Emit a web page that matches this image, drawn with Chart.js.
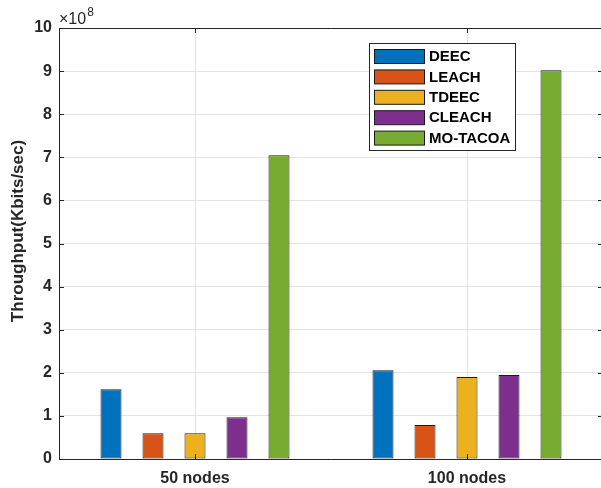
<!DOCTYPE html>
<html>
<head>
<meta charset="utf-8">
<script src="https://cdn.jsdelivr.net/npm/chart.js@4/dist/chart.umd.min.js"></script>
<style>
  html, body { margin: 0; padding: 0; background: #fff; overflow: hidden; }
  #wrap { width: 604px; height: 488px; }
</style>
</head>
<body>
<div id="wrap"><canvas id="c" width="604" height="488"></canvas></div>
<script>
// Network sizes on the x axis
const categories = ['50 nodes', '100 nodes'];

// Throughput per protocol (Kbits/sec)
const deec    = [1.62e8, 2.06e8];
const leach   = [0.60e8, 0.79e8];
const tdeec   = [0.60e8, 1.90e8];
const cleach  = [0.97e8, 1.95e8];
const moTacoa = [7.05e8, 9.02e8];

const seriesNames = ['DEEC', 'LEACH', 'TDEEC', 'CLEACH', 'MO-TACOA'];
const seriesValues = [deec, leach, tdeec, cleach, moTacoa];
const seriesColors = ['#0072BD', '#D95319', '#EDB120', '#7E2F8E', '#77AC30'];

// Y axis: 0..10 in units of 1e8
const yTickLabels = ['0', '1', '2', '3', '4', '5', '6', '7', '8', '9', '10'];
const yScaleFactor = 1e8;
const yExponent = '8';
const yTitle = 'Throughput(Kbits/sec)';

const FONT = '"Liberation Sans", Arial, Helvetica, sans-serif';
const AXIS_COLOR = '#262626';

// Axis box, inward tick marks, y label, exponent label and inset legend
const matlabAxes = {
  id: 'matlabAxes',
  afterDatasetsDraw(chart) {
    const { ctx, chartArea: a, scales } = chart;
    ctx.save();
    ctx.strokeStyle = AXIS_COLOR;
    ctx.lineWidth = 1;
    ctx.beginPath();
    ctx.rect(Math.round(a.left) + 0.5, Math.round(a.top) + 0.5,
             Math.round(a.right - a.left), Math.round(a.bottom - a.top));
    ctx.stroke();

    const tl = 5;
    ctx.beginPath();
    scales.y.ticks.forEach(t => {
      const y = Math.round(scales.y.getPixelForValue(t.value)) + 0.5;
      ctx.moveTo(a.left, y); ctx.lineTo(a.left + tl, y);
      ctx.moveTo(a.right, y); ctx.lineTo(a.right - tl, y);
    });
    categories.forEach((c, i) => {
      const x = Math.round(scales.x.getPixelForValue(i)) + 0.5;
      ctx.moveTo(x, a.bottom); ctx.lineTo(x, a.bottom - tl);
      ctx.moveTo(x, a.top); ctx.lineTo(x, a.top + tl);
    });
    ctx.stroke();
    ctx.restore();
  },
  afterDraw(chart) {
    const { ctx, chartArea: a } = chart;
    ctx.save();
    ctx.fillStyle = AXIS_COLOR;

    // y axis label
    ctx.save();
    ctx.translate(18, 231);
    ctx.rotate(-Math.PI / 2);
    ctx.textAlign = 'center';
    ctx.textBaseline = 'middle';
    ctx.font = 'bold 17px ' + FONT;
    ctx.fillText(yTitle, 0, 0);
    ctx.restore();

    // exponent label
    ctx.textBaseline = 'alphabetic';
    ctx.textAlign = 'left';
    ctx.font = '16px ' + FONT;
    const base = '\u00d710';
    ctx.fillText(base, a.left, a.top - 4);
    const w = ctx.measureText(base).width;
    ctx.font = '12px ' + FONT;
    ctx.fillText(yExponent, a.left + w + 1, a.top - 12);

    // legend
    const lx = 369.5, ly = 43.5, lw = 146, lh = 107;
    ctx.fillStyle = '#ffffff';
    ctx.fillRect(lx, ly, lw, lh);
    ctx.strokeStyle = '#262626';
    ctx.lineWidth = 1;
    ctx.strokeRect(lx, ly, lw, lh);
    ctx.font = 'bold 15px ' + FONT;
    ctx.textBaseline = 'middle';
    chart.data.datasets.forEach((ds, i) => {
      const sy = 49.5 + i * 20.4;
      ctx.fillStyle = ds.backgroundColor;
      ctx.fillRect(374.5, sy, 50, 14);
      ctx.strokeStyle = '#1a1a1a';
      ctx.strokeRect(374.5, sy, 50, 14);
      ctx.fillStyle = '#000000';
      ctx.fillText(ds.label, 429, sy + 7.5);
    });
    ctx.restore();
  }
};

new Chart(document.getElementById('c'), {
  type: 'bar',
  data: {
    labels: categories,
    datasets: seriesNames.map((name, i) => ({
      label: name,
      data: seriesValues[i],
      backgroundColor: seriesColors[i],
      borderColor: '#1a1a1a',
      borderWidth: 1,
      borderSkipped: false,
      categoryPercentage: 0.772,
      barPercentage: 0.5
    }))
  },
  options: {
    responsive: false,
    animation: false,
    devicePixelRatio: 1,
    layout: { padding: { top: 28, left: 0, right: 1, bottom: 0 } },
    plugins: {
      legend: { display: false },
      tooltip: { enabled: false }
    },
    scales: {
      x: {
        offset: true,
        grid: { offset: false, color: '#e3e3e3', drawTicks: false },
        border: { display: false },
        ticks: {
          color: AXIS_COLOR,
          padding: 10,
          font: { family: FONT, size: 16, weight: 'bold' }
        },
        afterFit(s) { s.height = 29; }
      },
      y: {
        min: 0,
        max: 10 * yScaleFactor,
        grid: { color: '#e3e3e3', drawTicks: false },
        border: { display: false },
        ticks: {
          stepSize: yScaleFactor,
          color: AXIS_COLOR,
          padding: 7,
          font: { family: FONT, size: 16, weight: 'bold' },
          callback: (v) => yTickLabels[Math.round(v / yScaleFactor)]
        },
        afterFit(s) { s.width = 59; }
      }
    }
  },
  plugins: [matlabAxes]
});
</script>
</body>
</html>
